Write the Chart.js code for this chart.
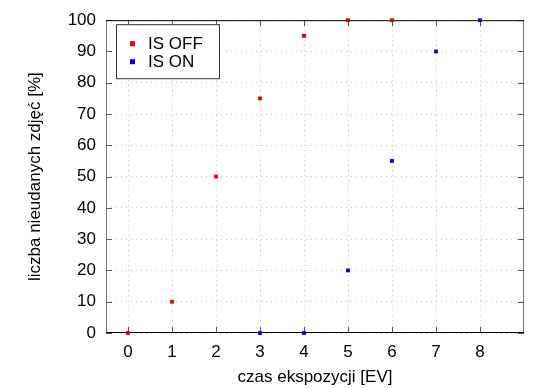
<!DOCTYPE html>
<html>
<head>
<meta charset="utf-8">
<script src="https://cdn.jsdelivr.net/npm/chart.js@4"></script>
<style>
  html, body { margin: 0; padding: 0; background: #fff; }
  #wrap { width: 550px; height: 389px; }
</style>
</head>
<body>
<div id="wrap"><canvas id="myChart" width="550" height="389"></canvas></div>
<script>
// dane z wykresu
const xOff = [0, 1, 2, 3, 4, 5, 6];
const yOff = [0, 10, 50, 75, 95, 100, 100];
const xOn = [3, 4, 5, 6, 7, 8];
const yOn = [0, 0, 20, 55, 90, 100];
const xTicks = [0, 1, 2, 3, 4, 5, 6, 7, 8];
const yTicks = [0, 10, 20, 30, 40, 50, 60, 70, 80, 90, 100];

const FONT = "'Liberation Sans', Arial, sans-serif";

// ramka, znaczniki do wewnatrz i legenda w stylu gnuplota
const gnuFrame = {
  id: 'gnuFrame',
  beforeDatasetsDraw(chart) {
    const ctx = chart.ctx, a = chart.chartArea;
    const xs = chart.scales.x, ys = chart.scales.y;
    ctx.save();
    ctx.lineWidth = 1;
    // lewa i prawa krawedz szare
    ctx.strokeStyle = '#777';
    ctx.beginPath();
    ctx.moveTo(a.left + 0.5, a.top); ctx.lineTo(a.left + 0.5, a.bottom);
    ctx.moveTo(a.right - 0.5, a.top); ctx.lineTo(a.right - 0.5, a.bottom);
    ctx.stroke();
    // ticks
    ctx.strokeStyle = '#555';
    ctx.beginPath();
    yTicks.forEach(v => {
      const y = Math.round(ys.getPixelForValue(v)) + 0.5;
      ctx.moveTo(a.left, y); ctx.lineTo(a.left + 6, y);
      ctx.moveTo(a.right, y); ctx.lineTo(a.right - 6, y);
    });
    xTicks.forEach(v => {
      const x = Math.round(xs.getPixelForValue(v)) + 0.5;
      ctx.moveTo(x, a.bottom); ctx.lineTo(x, a.bottom - 6);
      ctx.moveTo(x, a.top); ctx.lineTo(x, a.top + 6);
    });
    ctx.stroke();
    // gora i dol czarne
    ctx.strokeStyle = '#000';
    ctx.beginPath();
    ctx.moveTo(a.left, a.top + 0.5); ctx.lineTo(a.right, a.top + 0.5);
    ctx.moveTo(a.left, a.bottom - 0.5); ctx.lineTo(a.right, a.bottom - 0.5);
    ctx.stroke();
    ctx.restore();
  },
  afterDraw(chart) {
    const ctx = chart.ctx, a = chart.chartArea;
    ctx.save();
    // legenda
    const lx = a.left + 10, ly = a.top + 4, lw = 103, lh = 54;
    ctx.fillStyle = '#fff';
    ctx.fillRect(lx, ly, lw, lh);
    ctx.lineWidth = 1;
    ctx.strokeStyle = '#333';
    ctx.strokeRect(lx + 0.5, ly + 0.5, lw, lh);
    ctx.font = '17px ' + FONT;
    ctx.textBaseline = 'middle';
    chart.data.datasets.forEach((ds, i) => {
      const yy = ly + 19 + i * 18;
      ctx.fillStyle = ds.backgroundColor;
      ctx.fillRect(lx + 14, yy - 2, 5, 5);
      ctx.fillStyle = '#000';
      ctx.fillText(ds.label, lx + 32, yy + 1);
    });
    ctx.restore();
  }
};

const config = {
  type: 'scatter',
  data: {
    datasets: [{
      label: 'IS OFF',
      data: xOff.map((x, i) => ({ x: x, y: yOff[i] })),
      backgroundColor: '#e00000',
      borderColor: '#e00000',
      pointStyle: 'rect',
      pointRadius: 2.7,
      pointBorderWidth: 0,
      clip: false
    }, {
      label: 'IS ON',
      data: xOn.map((x, i) => ({ x: x, y: yOn[i] })),
      backgroundColor: '#0000e0',
      borderColor: '#0000e0',
      pointStyle: 'rect',
      pointRadius: 2.7,
      pointBorderWidth: 0,
      clip: false
    }]
  },
  options: {
    responsive: false,
    animation: false,
    events: [],
    layout: { padding: { top: 19, right: 26, left: 0, bottom: 0 } },
    plugins: { legend: { display: false }, tooltip: { enabled: false } },
    scales: {
      x: {
        type: 'linear',
        min: -0.5,
        max: 9,
        afterBuildTicks(scale) { scale.ticks = xTicks.map(v => ({ value: v })); },
        afterFit(scale) { scale.height = 56; },
        border: { display: false, dash: [1, 4] },
        grid: {
          color: 'rgba(150,150,150,0.55)',
          tickLength: 0,
          drawTicks: false
        },
        ticks: {
          color: '#000',
          padding: 9,
          font: { family: FONT, size: 17 }
        },
        title: {
          display: true,
          text: 'czas ekspozycji [EV]',
          color: '#000',
          padding: { top: 0, bottom: 1 },
          font: { family: FONT, size: 17 }
        }
      },
      y: {
        min: 0,
        max: 100,
        afterBuildTicks(scale) { scale.ticks = yTicks.map(v => ({ value: v })); },
        afterFit(scale) { scale.width = 106; },
        border: { display: false, dash: [1, 4] },
        grid: {
          color: 'rgba(150,150,150,0.55)',
          tickLength: 0,
          drawTicks: false
        },
        ticks: {
          color: '#000',
          padding: 10,
          font: { family: FONT, size: 17 }
        },
        title: {
          display: true,
          text: 'liczba nieudanych zdjęć [%]',
          color: '#000',
          padding: { top: 25, bottom: 0 },
          font: { family: FONT, size: 17 }
        }
      }
    }
  },
  plugins: [gnuFrame]
};

const myChart = new Chart(document.getElementById('myChart'), config);
</script>
</body>
</html>
